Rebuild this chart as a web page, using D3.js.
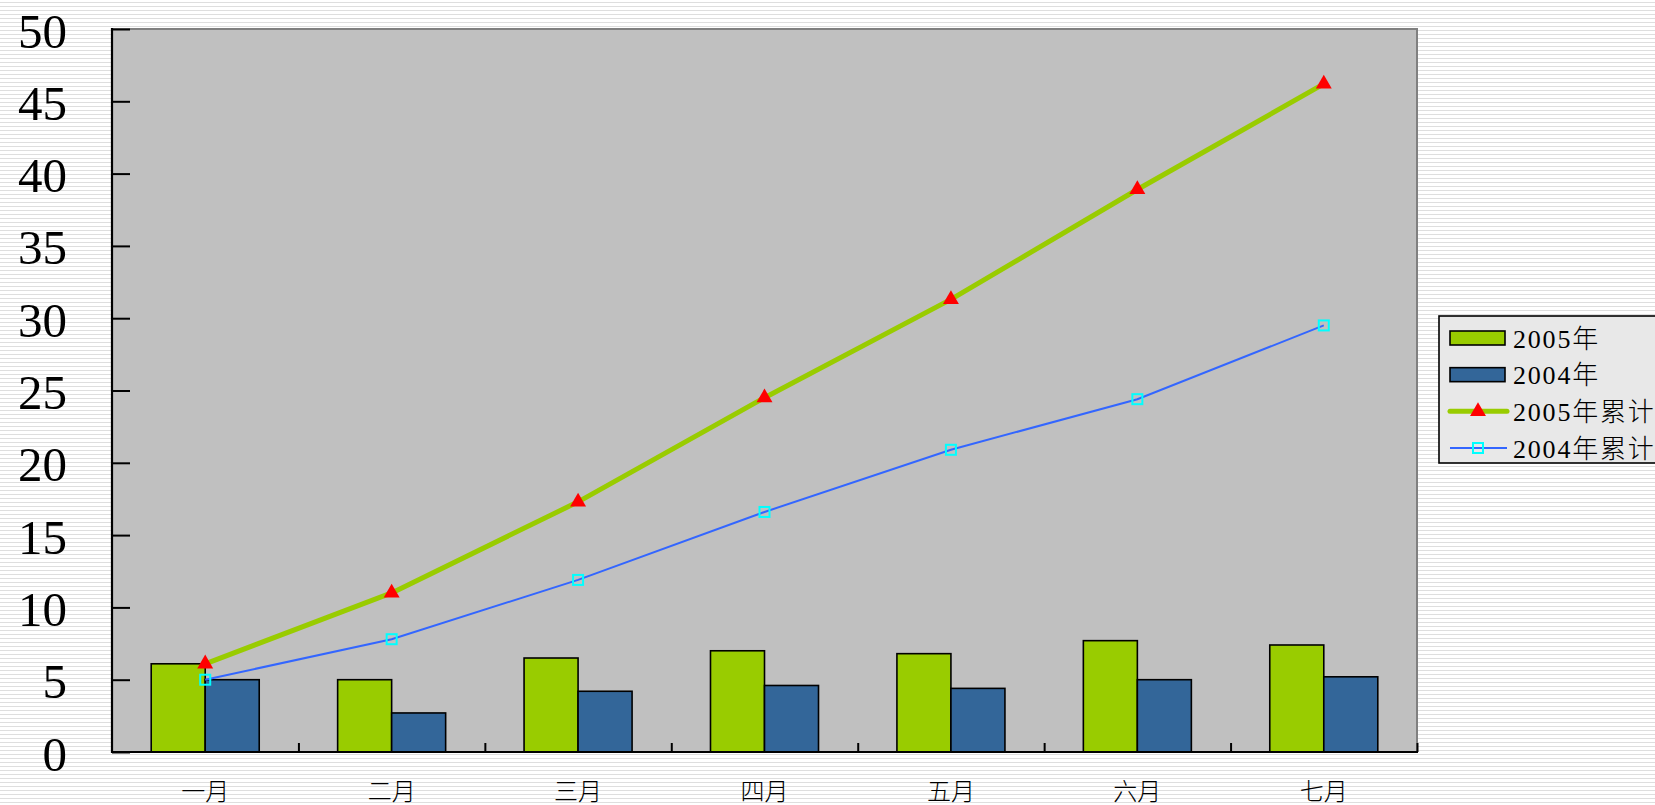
<!DOCTYPE html>
<html><head><meta charset="utf-8">
<script src="https://cdn.jsdelivr.net/npm/d3@7"></script>
<style>
html,body{margin:0;padding:0;overflow:hidden;}
svg{display:block;}
</style></head>
<body>
<script>
const months = ["一月","二月","三月","四月","五月","六月","七月"];
const bars2005 = [6.1, 5.0, 6.5, 7.0, 6.8, 7.7, 7.4];
const bars2004 = [5.0, 2.7, 4.2, 4.6, 4.4, 5.0, 5.2];
const cum2005 = [6.1, 11.0, 17.3, 24.5, 31.3, 38.9, 46.2];
const cum2004 = [5.0, 7.8, 11.9, 16.6, 20.9, 24.4, 29.5];
const yTicks = [0,5,10,15,20,25,30,35,40,45,50];
const legendLabels = ["2005年","2004年","2005年累计","2004年累计"];

const W = 1655, H = 805;
const L = 112, T = 29, R = 1417, B = 752;
const green = "#99cc00", blue = "#336699", lineBlue = "#3366ff", cyan = "#00ffff", red = "#ff0000";

const svg = d3.select("body").append("svg").attr("width", W).attr("height", H);
const defs = svg.append("defs");
const pat = defs.append("pattern").attr("id","stripes").attr("patternUnits","userSpaceOnUse")
  .attr("width", 40).attr("height", 4);
pat.append("rect").attr("width",40).attr("height",4).attr("fill","#ffffff");
pat.append("rect").attr("y",2).attr("width",40).attr("height",1).attr("fill","#dedede");
svg.append("rect").attr("width",W).attr("height",H).attr("fill","url(#stripes)");

const x = d3.scaleBand().domain(months).range([L, R]).paddingInner(0).paddingOuter(0);
const xs = d3.scaleBand().domain(["2005","2004"]).range([0, x.bandwidth()]).paddingInner(0).paddingOuter(0.726);
const y = d3.scaleLinear().domain([0, 50]).range([B, T]);

// plot area
svg.append("rect").attr("x", L).attr("y", T).attr("width", R-L).attr("height", B-T)
  .attr("fill","#c0c0c0").attr("stroke","#808080").attr("stroke-width",2);

// bars
const g = svg.append("g");
const groups = g.selectAll("g.m").data(months).join("g").attr("transform", d => `translate(${x(d)},0)`);
groups.append("rect").attr("x", xs("2005")).attr("width", xs.bandwidth())
  .attr("y", (d,i) => y(bars2005[i])).attr("height", (d,i) => y(0) - y(bars2005[i]))
  .attr("fill", green).attr("stroke","#000").attr("stroke-width",1.6);
groups.append("rect").attr("x", xs("2004")).attr("width", xs.bandwidth())
  .attr("y", (d,i) => y(bars2004[i])).attr("height", (d,i) => y(0) - y(bars2004[i]))
  .attr("fill", blue).attr("stroke","#000").attr("stroke-width",1.6);

// axes
const yAxis = d3.axisRight(y).tickValues(yTicks).tickSize(18).tickFormat("");
const ya = svg.append("g").attr("transform", `translate(${L},0)`).call(yAxis);
ya.select(".domain").remove();
ya.selectAll("line").attr("stroke","#000").attr("stroke-width",2);
svg.append("line").attr("x1",L).attr("x2",L).attr("y1",T-1).attr("y2",B+1).attr("stroke","#000").attr("stroke-width",2.2);

const xTickScale = d3.scaleLinear().domain([0, months.length]).range([L, R]);
const xAxis = d3.axisTop(xTickScale).tickValues(d3.range(1, months.length+1)).tickSize(9).tickFormat("");
const xa = svg.append("g").attr("transform", `translate(0,${B})`).call(xAxis);
xa.select(".domain").remove();
xa.selectAll("line").attr("stroke","#000").attr("stroke-width",2);
svg.append("line").attr("x1",L-1).attr("x2",R+1).attr("y1",B).attr("y2",B).attr("stroke","#000").attr("stroke-width",2.2);

// y labels
svg.append("g").selectAll("text").data(yTicks).join("text")
  .attr("x", 67).attr("y", d => y(d) + 2)
  .attr("text-anchor","end").attr("dominant-baseline","central")
  .attr("font-family","'Liberation Serif','DejaVu Serif',serif").attr("font-size",49)
  .attr("fill","#000").text(d => d);

// x labels
svg.append("g").selectAll("text").data(months).join("text")
  .attr("x", d => x(d) + x.bandwidth()/2).attr("y", 789)
  .attr("text-anchor","middle").attr("dominant-baseline","central")
  .attr("font-family","'Noto Sans CJK SC',sans-serif").attr("font-size",24).attr("font-weight",300)
  .attr("fill","#000").text(d => d);

// lines
const cx = d => x(d) + x.bandwidth()/2;
const line = d3.line().x(d => cx(d[0])).y(d => y(d[1]));
svg.append("path").datum(months.map((m,i)=>[m,cum2005[i]])).attr("d", line)
  .attr("fill","none").attr("stroke", green).attr("stroke-width",5).attr("stroke-linejoin","round");
svg.append("path").datum(months.map((m,i)=>[m,cum2004[i]])).attr("d", line)
  .attr("fill","none").attr("stroke", lineBlue).attr("stroke-width",2);

const tri = d3.symbol().type(d3.symbolTriangle).size(110);
svg.append("g").selectAll("path").data(months).join("path")
  .attr("d", tri).attr("transform", (d,i) => `translate(${cx(d)},${y(cum2005[i])})`)
  .attr("fill", red);
svg.append("g").selectAll("rect").data(months).join("rect")
  .attr("x", d => cx(d) - 5).attr("y", (d,i) => y(cum2004[i]) - 5)
  .attr("width",10).attr("height",10).attr("fill","none").attr("stroke",cyan).attr("stroke-width",2);

// legend
const lg = svg.append("g");
lg.append("rect").attr("x",1439).attr("y",316).attr("width",260).attr("height",147)
  .attr("fill","#e8e8e8").attr("stroke","#000").attr("stroke-width",1.6);
const rowY = d3.scalePoint().domain(legendLabels).range([338, 448]);
lg.append("rect").attr("x",1450).attr("y",rowY(legendLabels[0])-7).attr("width",55).attr("height",14)
  .attr("fill",green).attr("stroke","#000").attr("stroke-width",1.6);
lg.append("rect").attr("x",1450).attr("y",rowY(legendLabels[1])-7).attr("width",55).attr("height",14)
  .attr("fill",blue).attr("stroke","#000").attr("stroke-width",1.6);
lg.append("line").attr("x1",1450).attr("x2",1507).attr("y1",rowY(legendLabels[2])).attr("y2",rowY(legendLabels[2]))
  .attr("stroke",green).attr("stroke-width",5).attr("stroke-linecap","round");
lg.append("path").attr("d",tri).attr("transform",`translate(1478,${rowY(legendLabels[2])})`).attr("fill",red);
lg.append("line").attr("x1",1450).attr("x2",1507).attr("y1",rowY(legendLabels[3])).attr("y2",rowY(legendLabels[3]))
  .attr("stroke",lineBlue).attr("stroke-width",2);
lg.append("rect").attr("x",1473).attr("y",rowY(legendLabels[3])-5).attr("width",10).attr("height",10)
  .attr("fill","none").attr("stroke",cyan).attr("stroke-width",2);
lg.selectAll("text").data(legendLabels).join("text")
  .attr("x",1513).attr("y", d => rowY(d)+1).attr("dominant-baseline","central")
  .attr("font-family","'Liberation Serif','Noto Sans CJK SC',serif").attr("font-size",26)
  .attr("font-weight",300).attr("letter-spacing",1.8)
  .attr("fill","#000").text(d => d);
</script>
</body></html>
